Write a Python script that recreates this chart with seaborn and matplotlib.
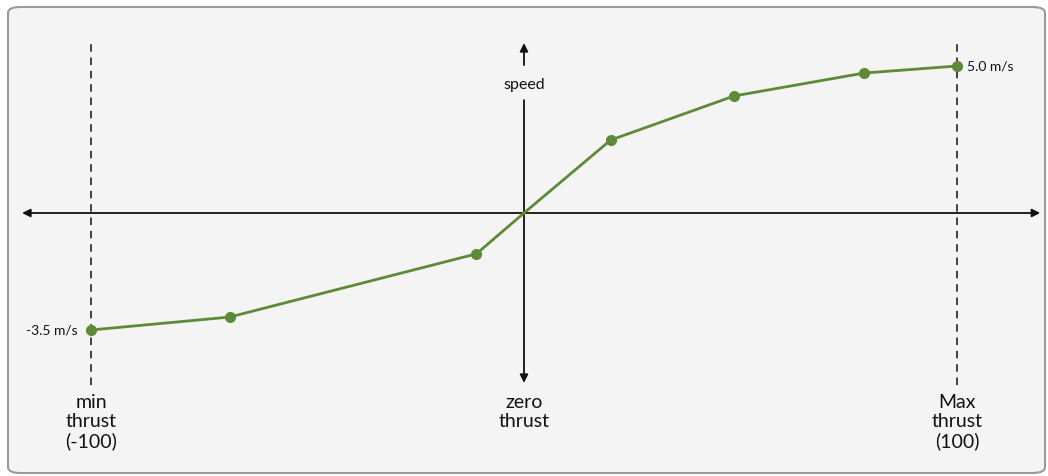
import matplotlib
matplotlib.use('Agg')
import matplotlib.pyplot as plt
import seaborn as sns
import pandas as pd
from matplotlib.patches import FancyBboxPatch

# Data (thrust -100..100, speed in chart units)
thrust = [-100, -68, -11, 0, 20, 48.5, 78.5, 100]
speed = [-3.98, -3.54, -1.39, 0, 2.48, 3.98, 4.76, 5.0]
min_label = "-3.5 m/s"
max_label = "5.0 m/s"
bottom_labels = ["min\nthrust\n(-100)", "zero\nthrust", "Max\nthrust\n(100)"]
bottom_x = [-100, 0, 100]

df = pd.DataFrame({'thrust': thrust, 'speed': speed})

sns.set_style('white')
plt.rcParams['font.family'] = ['Lato', 'DejaVu Sans']

fig = plt.figure(figsize=(10.48, 4.76), dpi=100)
ax = fig.add_axes([0, 0, 1, 1])
ax.set_xlim(-121.0, 121.0)
ax.set_ylim(-8.946, 7.245)
ax.axis('off')

# rounded grey panel
panel = FancyBboxPatch((8 / 1048, 3 / 476), 1037 / 1048, 466 / 476,
                       boxstyle='round,pad=0,rounding_size=0.012',
                       transform=ax.transAxes, facecolor='#f4f4f4',
                       edgecolor='#9a9a9a', linewidth=1.5, zorder=0)
ax.add_patch(panel)

# dashed limits
for xv in [-100, 100]:
    ax.plot([xv, xv], [-5.85, 5.82], color='#222222', lw=1.2,
            linestyle=(0, (4.5, 3.5)), zorder=1)

# horizontal axis with arrows at both ends
ax.annotate('', xy=(119.2, 0), xytext=(-115.9, 0),
            arrowprops=dict(arrowstyle='<|-|>', color='#111111', lw=1.3,
                            mutation_scale=12, shrinkA=0, shrinkB=0), zorder=2)
# vertical axis, split around label
ax.annotate('', xy=(0, 5.78), xytext=(0, 5.03),
            arrowprops=dict(arrowstyle='-|>', color='#111111', lw=1.3,
                            mutation_scale=12, shrinkA=0, shrinkB=0), zorder=2)
ax.annotate('', xy=(0, -5.78), xytext=(0, 3.84),
            arrowprops=dict(arrowstyle='-|>', color='#111111', lw=1.3,
                            mutation_scale=12, shrinkA=0, shrinkB=0), zorder=2)
ax.text(0, 4.35, 'speed', ha='center', va='center', fontsize=11.5, color='#111111')

# speed curve (no dot at the origin)
sns.lineplot(data=df, x='thrust', y='speed', ax=ax, color='#5e8a37', lw=2,
             marker='o', markersize=8, markeredgewidth=0,
             markevery=[0, 1, 2, 4, 5, 6, 7], zorder=3)

ax.text(102.2, speed[-1], max_label, ha='left', va='center', fontsize=10, color='#111111')
ax.text(-103.0, speed[0], min_label, ha='right', va='center', fontsize=10, color='#111111')

for xv, lab in zip(bottom_x, bottom_labels):
    ax.text(xv, -6.15, lab, ha='center', va='top', fontsize=14,
            linespacing=1.15, color='#111111')

fig.savefig('out.png', dpi=100, facecolor='white')
